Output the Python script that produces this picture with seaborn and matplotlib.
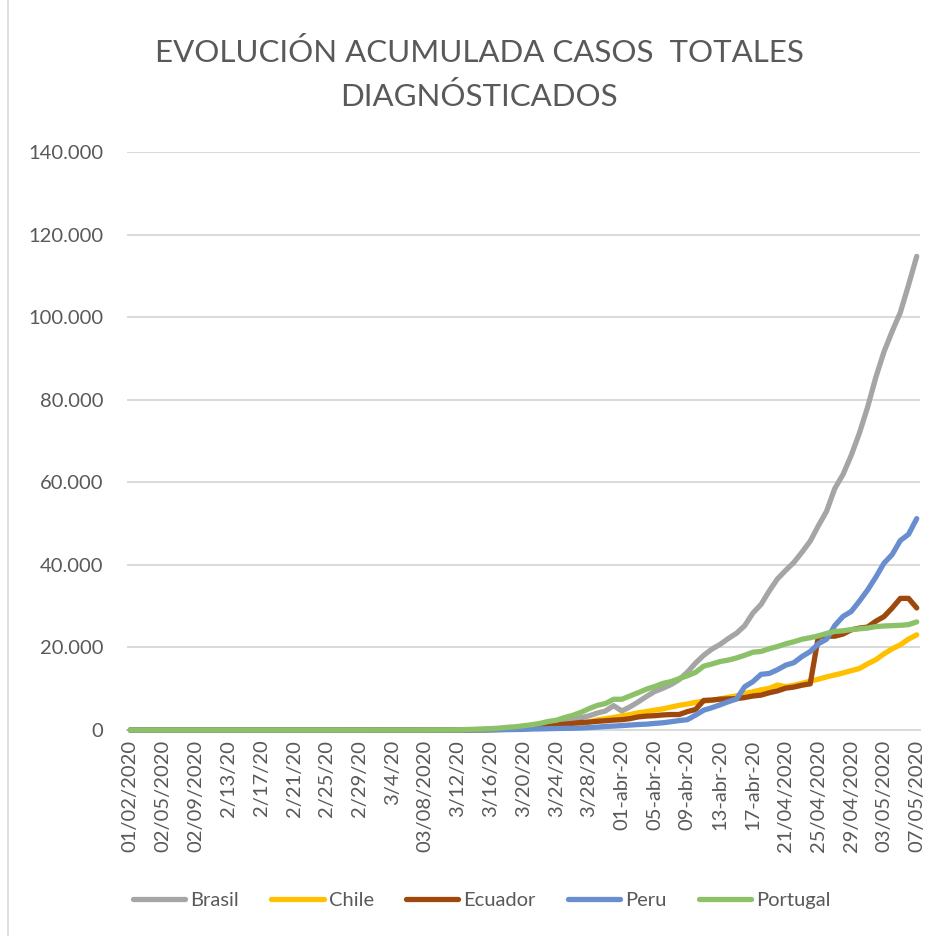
import matplotlib
matplotlib.use("Agg")
import matplotlib.pyplot as plt
import seaborn as sns
import pandas as pd
from matplotlib.lines import Line2D

# ---------------- data ----------------
SERIES = ["Brasil", "Chile", "Ecuador", "Peru", "Portugal"]

TICK_LABELS = ["01/02/2020", "02/05/2020", "02/09/2020", "2/13/20", "2/17/20", "2/21/20",
               "2/25/20", "2/29/20", "3/4/20", "03/08/2020", "3/12/20", "3/16/20", "3/20/20",
               "3/24/20", "3/28/20", "01-abr-20", "05-abr-20", "09-abr-20", "13-abr-20",
               "17-abr-20", "21/04/2020", "25/04/2020", "29/04/2020", "03/05/2020", "07/05/2020"]

brasil = [0, 0, 0, 0, 0, 0, 0, 0, 0, 0, 0, 0, 0, 0, 0, 0, 0, 0, 0, 0, 0, 0, 0, 0, 0,
          1, 1, 1, 2, 2, 2, 2, 3, 3, 3, 13, 13, 19, 25, 31, 38, 52, 98,
          121, 151, 200, 234, 346, 529, 640, 970, 1178, 1546, 1924, 2554, 2985, 3417,
          4100, 4600, 5900, 4600, 5600, 6800, 8100, 9300, 10100, 11000, 12200, 14000, 16200, 18100,
          19600, 20727, 22169, 23430, 25262, 28320, 30425, 33682, 36599, 38654, 40581, 43079, 45757,
          49492, 52995, 58509, 61888, 66501, 71886, 78162, 85380, 91589, 96559, 101147, 107780, 114715]

chile = [0, 0, 0, 0, 0, 0, 0, 0, 0, 0, 0, 0, 0, 0, 0, 0, 0, 0, 0, 0, 0, 0, 0, 0, 0, 0, 0, 0, 0, 0, 0,
         1, 1, 4, 4, 5, 7, 10, 13, 17, 23, 33, 43,
         75, 156, 201, 238, 342, 434, 537, 632, 746, 922, 1142, 1306, 1610, 1909,
         2449, 2738, 3031, 3404, 3737, 4161, 4471, 4815, 5116, 5546, 5972, 6300, 6700, 7000,
         7213, 7525, 7917, 8273, 8807, 9252, 9730, 10088, 10900, 10507, 10832, 11296, 11812,
         12306, 12858, 13331, 13813, 14365, 14885, 16023, 17008, 18435, 19663, 20643, 22016, 23048]

ecuador = [0, 0, 0, 0, 0, 0, 0, 0, 0, 0, 0, 0, 0, 0, 0, 0, 0, 0, 0, 0, 0, 0, 0, 0, 0, 0, 0, 0,
           1, 6, 7, 10, 10, 13, 13, 13, 14, 15, 15, 17, 17, 17, 28,
           37, 58, 111, 168, 260, 426, 532, 789, 981, 1211, 1403, 1595, 1823, 1924,
           2100, 2240, 2400, 2500, 2748, 3163, 3368, 3465, 3646, 3747, 3747, 4450, 4965, 7161,
           7257, 7466, 7529, 7603, 7858, 8225, 8450, 9022, 9468, 10128, 10398, 10850, 11183,
           22719, 22719, 22719, 23240, 24258, 24675, 24934, 26336, 27464, 29538, 31881, 31881, 29559]

peru = [0, 0, 0, 0, 0, 0, 0, 0, 0, 0, 0, 0, 0, 0, 0, 0, 0, 0, 0, 0, 0, 0, 0, 0, 0, 0, 0, 0, 0, 0,
        0, 0, 0, 0, 0, 0,
        1, 1, 6, 7, 9, 11, 22,
        38, 43, 71, 86, 117, 145, 234, 263, 318, 363, 395, 416, 480, 580,
        700, 850, 950, 1065, 1200, 1323, 1414, 1595, 1746, 2000, 2281, 2500, 3600, 4800,
        5400, 6100, 6850, 7500, 10480, 11700, 13480, 13700, 14600, 15700, 16300, 17800, 19000,
        20900, 22000, 25300, 27500, 28700, 31200, 33900, 37000, 40400, 42500, 45900, 47400, 51200]

portugal = [0, 0, 0, 0, 0, 0, 0, 0, 0, 0, 0, 0, 0, 0, 0, 0, 0, 0, 0, 0, 0, 0, 0, 0, 0, 0, 0, 0, 0, 0,
            2, 2, 4, 6, 9, 13, 21, 30, 39, 41, 59, 112, 169,
            245, 331, 448, 642, 785, 1020, 1280, 1600, 2060, 2362, 2995, 3544, 4268, 5170,
            5962, 6408, 7443, 7443, 8251, 9034, 9886, 10524, 11278, 11730, 12442, 13141, 13956, 15472,
            15987, 16585, 16934, 17448, 18091, 18841, 19022, 19685, 20206, 20863, 21379, 21982, 22353,
            22797, 23392, 23864, 24027, 24322, 24505, 24692, 25045, 25190, 25282, 25351, 25524, 26182]

COLORS = {"Brasil": "#A5A5A5", "Chile": "#FFC000", "Ecuador": "#9E480E",
          "Peru": "#698ED0", "Portugal": "#8CC168"}

# ---------------- build table ----------------
values = {"Brasil": brasil, "Chile": chile, "Ecuador": ecuador, "Peru": peru, "Portugal": portugal}
rows = []
for name in SERIES:
    for i, v in enumerate(values[name]):
        rows.append({"dia": i, "casos": v, "pais": name})
df = pd.DataFrame(rows)

# ---------------- style ----------------
sns.set_theme(style="white")
plt.rcParams['font.family'] = ['Lato', 'DejaVu Sans']
TXT = "#595959"
GRID = "#D9D9D9"

fig = plt.figure(figsize=(9.39, 9.36), dpi=100)
ax = fig.add_axes([127 / 939, 1 - 730 / 936, (920 - 127) / 939, (730 - 152) / 936])

sns.lineplot(data=df, x="dia", y="casos", hue="pais", hue_order=SERIES, palette=COLORS,
             linewidth=3.8, ax=ax, legend=False, estimator=None)
for ln in ax.lines:
    ln.set_clip_on(False)
    ln.set_solid_capstyle("round")
    ln.set_solid_joinstyle("round")
    ln.set_zorder(3)

n = len(brasil)
ax.set_xlim(-0.4, n - 1 + 0.4)
ax.set_ylim(0, 140000)
yt = list(range(0, 140001, 20000))
ax.set_yticks(yt)
ax.set_yticklabels(["0" if v == 0 else f"{v:,}".replace(",", ".") for v in yt])
ax.set_xticks(list(range(0, n, 4)))
ax.set_xticklabels(TICK_LABELS, rotation=90, ha="center", va="top")

ax.yaxis.grid(True, color=GRID, linewidth=1.4)
ax.xaxis.grid(False)
ax.set_axisbelow(True)
for s in ["top", "right", "left"]:
    ax.spines[s].set_visible(False)
ax.spines["bottom"].set_color(GRID)
ax.spines["bottom"].set_linewidth(1.4)
ax.tick_params(axis="y", length=0, pad=17, labelsize=14.5, labelcolor=TXT)
ax.tick_params(axis="x", length=0, pad=7, labelsize=14.5, labelcolor=TXT)
ax.set_xlabel("")
ax.set_ylabel("")

fig.text(479 / 939, 1 - 52 / 936, "EVOLUCIÓN ACUMULADA CASOS  TOTALES", ha="center", va="center",
         fontsize=22.5, color=TXT)
fig.text(479 / 939, 1 - 97 / 936, "DIAGNÓSTICADOS", ha="center", va="center",
         fontsize=22.5, color=TXT)

handles = [Line2D([0], [0], color=COLORS[s], linewidth=3.8, solid_capstyle="round") for s in SERIES]
fig.legend(handles, SERIES, loc="center", bbox_to_anchor=(482 / 939, 1 - 900 / 936), ncol=5,
           frameon=False, handlelength=2.6, handletextpad=0.25, columnspacing=1.6,
           prop={"size": 14.5}, labelcolor=TXT)

fig.add_artist(Line2D([8 / 939, 8 / 939], [0, 1], transform=fig.transFigure, color=GRID, linewidth=1.2))

fig.savefig("out.png", dpi=100, facecolor="white")
